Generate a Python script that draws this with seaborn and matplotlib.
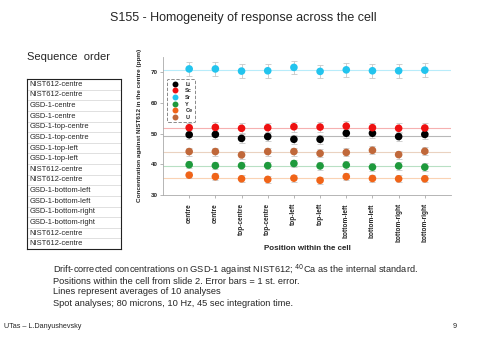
import matplotlib
matplotlib.use("Agg")
import matplotlib.pyplot as plt
import seaborn as sns
import numpy as np
import pandas as pd

positions = ["centre", "centre", "top-centre", "top-centre", "top-left", "top-left",
             "bottom-left", "bottom-left", "bottom-right", "bottom-right"]
elements = ["Li", "Sc", "Sr", "Y", "Ce", "U"]
li = [49.6, 49.7, 48.4, 49.0, 48.1, 48.1, 50.1, 50.1, 49.0, 49.7]
sc = [51.9, 52.0, 51.7, 51.9, 52.2, 52.1, 52.4, 51.9, 51.7, 51.8]
sr = [71.1, 71.1, 70.4, 70.5, 71.6, 70.3, 70.8, 70.5, 70.5, 70.7]
y_ = [39.8, 39.5, 39.5, 39.5, 40.2, 39.4, 39.7, 39.0, 39.4, 39.0]
ce = [36.4, 35.9, 35.2, 35.0, 35.4, 34.7, 35.9, 35.3, 35.2, 35.2]
u = [44.1, 44.1, 43.0, 44.1, 44.1, 43.5, 43.8, 44.5, 43.1, 44.2]
errors = [1.5, 1.6, 2.2, 1.2, 1.1, 1.3]
sequence = ["NIST612-centre", "NIST612-centre", "GSD-1-centre", "GSD-1-centre",
            "GSD-1-top-centre", "GSD-1-top-centre", "GSD-1-top-left", "GSD-1-top-left",
            "NIST612-centre", "NIST612-centre", "GSD-1-bottom-left", "GSD-1-bottom-left",
            "GSD-1-bottom-right", "GSD-1-bottom-right", "NIST612-centre", "NIST612-centre"]

colors = {"Li": "#000000", "Sc": "#ee1111", "Sr": "#22c4ee", "Y": "#1e9a3c",
          "Ce": "#f06418", "U": "#c0683a"}
line_colors = {"Li": "#b8b8b8", "Sc": "#f6b0b0", "Sr": "#b8ecfa", "Y": "#b8e0c4",
               "Ce": "#fad2b4", "U": "#ead2c0"}

series = dict(zip(elements, [li, sc, sr, y_, ce, u]))
rows = []
for el in elements:
    for i, v in enumerate(series[el]):
        rows.append({"pos": i, "value": v, "element": el})
df = pd.DataFrame(rows)

sns.set_theme(style="white")
plt.rcParams["font.family"] = ["Liberation Sans", "DejaVu Sans"]

fig = plt.figure(figsize=(4.86, 3.42), dpi=100)
fig.patch.set_facecolor("white")
ax = fig.add_axes([163/486, 1-194.7/342, (451-163)/486, (194.7-57)/342])

for el, err in zip(elements, errors):
    vals = np.array(series[el])
    ax.axhline(vals.mean(), color=line_colors[el], lw=0.8, zorder=1)
    ax.errorbar(np.arange(len(vals)), vals, yerr=err, fmt="none", ecolor="#c8c8c8",
                elinewidth=0.6, capsize=2, capthick=0.6, zorder=2)

sns.scatterplot(data=df, x="pos", y="value", hue="element", hue_order=elements,
                palette=colors, s=30, edgecolor="none", ax=ax, zorder=3)

ax.set_xlim(-1, 10)
ax.set_ylim(30, 75)
ax.set_yticks([30, 40, 50, 60, 70])
ax.set_xticks(range(len(positions)))
ax.set_xticklabels(positions, rotation=90, fontsize=4.7, fontweight="bold")
for t in ax.get_yticklabels():
    t.set_fontsize(4.5)
    t.set_fontweight("bold")
ax.tick_params(axis="both", length=2, width=0.5, color="#999999", pad=2, bottom=True, left=True)
ax.tick_params(axis="x", pad=4)
for s in ["top", "right"]:
    ax.spines[s].set_visible(False)
for s in ["left", "bottom"]:
    ax.spines[s].set_color("#aaaaaa")
    ax.spines[s].set_linewidth(0.6)
ax.set_xlabel("Position within the cell", fontsize=5.8, fontweight="bold")
ax.xaxis.set_label_coords(0.5, -(248 - 194.7) / (194.7 - 57), transform=ax.transAxes)
ax.xaxis.label.set_va("center")
ax.set_ylabel("Concentration against NIST612 in the centre (ppm)", fontsize=4.6,
              fontweight="bold", labelpad=6)

leg = ax.legend(loc="upper left", bbox_to_anchor=(0.003, 0.86), frameon=True, fontsize=4.0,
                markerscale=0.78, handletextpad=0.7, borderpad=0.45, labelspacing=0.3,
                handlelength=2.2, fancybox=True, title=None)
leg.get_frame().set_linestyle((0, (4, 2)))
leg.get_frame().set_edgecolor("#555555")
leg.get_frame().set_linewidth(0.6)
for t in leg.get_texts():
    t.set_fontweight("bold")

fig.text(0.5, 1-18/342, "S155 - Homogeneity of response across the cell", ha="center",
         va="center", fontsize=9)
fig.text(27/486, 1-57/342, "Sequence  order", ha="left", va="center", fontsize=8)

tab = fig.add_axes([27/486, 1-249/342, (121-27)/486, (249-79)/342])
tab.set_xlim(0, 1)
tab.set_ylim(len(sequence), 0)
tab.set_xticks([])
tab.set_yticks([])
for s in tab.spines.values():
    s.set_color("#222222")
    s.set_linewidth(0.8)
for i, name in enumerate(sequence):
    tab.text(0.03, i + 0.5, name, ha="left", va="center", fontsize=5.4)
    if i > 0:
        tab.axhline(i, color="#c8c8c8", lw=0.4)

notes = ["Drift-corrected concentrations on GSD-1 against NIST612; $^{40}$Ca as the internal standard.",
         "Positions within the cell from slide 2. Error bars = 1 st. error.",
         "Lines represent averages of 10 analyses",
         "Spot analyses; 80 microns, 10 Hz, 45 sec integration time."]
for k, line in enumerate(notes):
    fig.text(53/486, 1-(270 + 11*k)/342, line, ha="left", va="center", fontsize=6.7)
fig.text(4/486, 1-327/342, "UTas \u2013 L.Danyushevsky", ha="left", va="center", fontsize=5.2)
fig.text(455/486, 1-327/342, "9", ha="center", va="center", fontsize=5.2)

fig.savefig("out.png", dpi=100, facecolor="white")
